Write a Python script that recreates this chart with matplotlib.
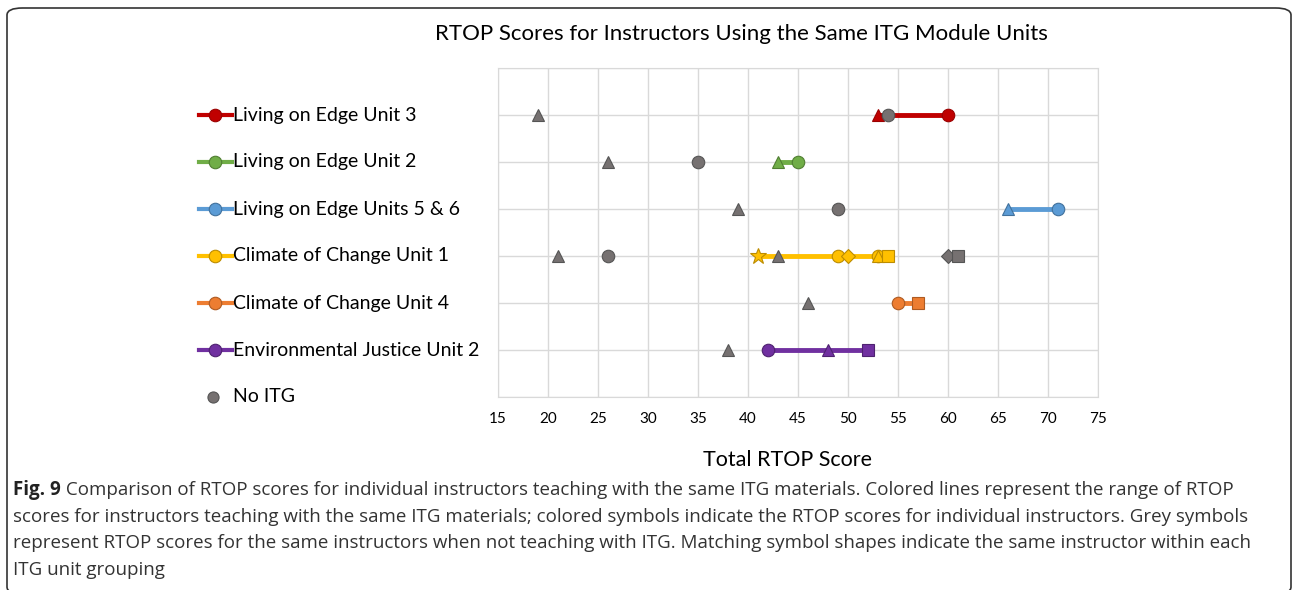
import matplotlib
matplotlib.use("Agg")
import matplotlib.pyplot as plt
import matplotlib.transforms as mtransforms
from matplotlib.patches import FancyBboxPatch
from matplotlib import font_manager

# Datos
grupos = ["Living on Edge Unit 3", "Living on Edge Unit 2", "Living on Edge Units 5 & 6",
          "Climate of Change Unit 1", "Climate of Change Unit 4", "Environmental Justice Unit 2"]
colores = ["#C00000", "#70AD47", "#5B9BD5", "#FFC000", "#ED7D31", "#7030A0"]
bordes = ["#9A0000", "#507E32", "#41719C", "#BC8C00", "#AE5A21", "#4E2270"]

# puntajes con ITG (valor, marcador) por grupo
itg_puntos = [
    [(53, "^"), (60, "o")],
    [(43, "^"), (45, "o")],
    [(66, "^"), (71, "o")],
    [(41, "*"), (49, "o"), (50, "D"), (53, "o"), (53, "^"), (54, "s")],
    [(55, "o"), (57, "s")],
    [(42, "o"), (48, "^"), (52, "s")],
]
# puntajes sin ITG (valor, marcador) por grupo
sin_itg_puntos = [
    [(19, "^"), (54, "o")],
    [(26, "^"), (35, "o")],
    [(39, "^"), (49, "o")],
    [(21, "^"), (26, "o"), (43, "^"), (60, "D"), (61, "s")],
    [(46, "^")],
    [(38, "^")],
]
xticks = list(range(15, 80, 5))

gris, gris_borde = "#767171", "#555555"

disponibles = {f.name for f in font_manager.fontManager.ttflist}
fuente = "Lato" if "Lato" in disponibles else "DejaVu Sans"
fuente_caption = "Open Sans" if "Open Sans" in disponibles else "DejaVu Sans"
plt.rcParams['font.family'] = [fuente, 'DejaVu Sans']

fig = plt.figure(figsize=(12.92, 5.90), dpi=100)
ax = fig.add_axes([498/1292, 1-397/590, 600/1292, 329/590])

n = len(grupos)
filas = [n - i for i in range(n)]  # 6..1, fila 0 para "No ITG"

msize = {"o": 9, "^": 9, "s": 8.5, "D": 7, "*": 12}

for i in range(n):
    y = filas[i]
    vals = [v for v, m in itg_puntos[i]]
    ax.plot([min(vals), max(vals)], [y, y], color=colores[i], lw=3.5, zorder=2,
            solid_capstyle='butt')
    for v, m in itg_puntos[i]:
        ax.plot(v, y, marker=m, markersize=msize[m], color=colores[i],
                markeredgecolor=bordes[i], markeredgewidth=0.8, zorder=3)
    for v, m in sin_itg_puntos[i]:
        ax.plot(v, y, marker=m, markersize=msize[m], color=gris,
                markeredgecolor=gris_borde, markeredgewidth=0.8, zorder=4)

ax.set_xlim(15, 75)
ax.set_ylim(0, n + 1)
ax.set_xticks(xticks)
ax.set_yticks(range(0, n + 2))
ax.set_yticklabels([])
ax.tick_params(length=0, labelsize=11, pad=11)
ax.grid(True, color="#D9D9D9", lw=1)
ax.set_axisbelow(True)
for s in ax.spines.values():
    s.set_color("#D9D9D9")

ax.set_xlabel("Total RTOP Score", fontsize=15.5, labelpad=12)
ax.xaxis.set_label_coords(0.483, -0.16)
fig.text(741/1292, 1-34/590, "RTOP Scores for Instructors Using the Same ITG Module Units",
         ha="center", va="center", fontsize=16)

# leyenda manual alineada con las filas
trans = mtransforms.blended_transform_factory(fig.transFigure, ax.transData)
for i in range(n):
    y = filas[i]
    ax.plot([199/1292, 232/1292], [y, y], transform=trans, clip_on=False,
            color=colores[i], lw=3)
    ax.plot(215/1292, y, transform=trans, clip_on=False, marker="o", markersize=9,
            color=colores[i], markeredgecolor=bordes[i], markeredgewidth=0.8)
    ax.text(233/1292, y, grupos[i], transform=trans, fontsize=14, va="center", ha="left")
ax.plot(213/1292, 0, transform=trans, clip_on=False, marker="o", markersize=8,
        color=gris, markeredgecolor=gris_borde, markeredgewidth=0.8)
ax.text(233/1292, 0, "No ITG", transform=trans, fontsize=14, va="center", ha="left")

# pie de figura
lineas = [
    " Comparison of RTOP scores for individual instructors teaching with the same ITG materials. Colored lines represent the range of RTOP",
    "scores for instructors teaching with the same ITG materials; colored symbols indicate the RTOP scores for individual instructors. Grey symbols",
    "represent RTOP scores for the same instructors when not teaching with ITG. Matching symbol shapes indicate the same instructor within each",
    "ITG unit grouping",
]
ys = [490, 517, 543, 570]
c_caption = "#333333"
tam = 13.5
t0 = fig.text(13/1292, 1-ys[0]/590, "Fig. 9", fontsize=tam, fontweight="bold",
              family=fuente_caption, va="center", ha="left", color="#222222")
fig.add_artist(matplotlib.text.Annotation(lineas[0], xy=(1, 0.5), xycoords=t0,
                                          va="center", ha="left", fontsize=tam,
                                          family=fuente_caption, color=c_caption))
for txt, yy in zip(lineas[1:], ys[1:]):
    fig.text(13/1292, 1-yy/590, txt, fontsize=tam, family=fuente_caption,
             va="center", ha="left", color=c_caption)

marco = FancyBboxPatch((7/1292, -4/590), 1284/1292, 586/590, transform=fig.transFigure,
                       boxstyle="round,pad=0,rounding_size=0.012", fill=False,
                       edgecolor="#333333", lw=1.2)
fig.add_artist(marco)

fig.savefig("out.png", dpi=100, facecolor="white")
